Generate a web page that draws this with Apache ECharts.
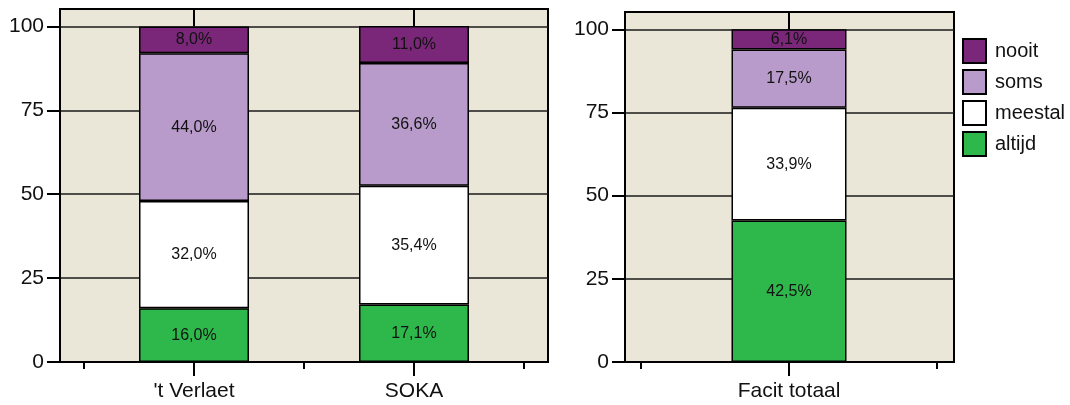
<!DOCTYPE html>
<html>
<head>
<meta charset="utf-8">
<script src="https://cdn.jsdelivr.net/npm/echarts@6/dist/echarts.min.js"></script>
<style>
html,body{margin:0;padding:0;background:#fff;}
#chart{width:1070px;height:405px;}
</style>
</head>
<body>
<div id="chart"></div>
<script>
// ---- data ----
const categoriesLeft = ["'t Verlaet", "SOKA"];
const categoriesRight = ["Facit totaal"];
const legendOrder = ["nooit", "soms", "meestal", "altijd"];
const altijdLeft = [16.0, 17.1];
const meestalLeft = [32.0, 35.4];
const somsLeft = [44.0, 36.6];
const nooitLeft = [8.0, 11.0];
const altijdRight = [42.5];
const meestalRight = [33.9];
const somsRight = [17.5];
const nooitRight = [6.1];
const yTickValues = [0, 25, 50, 75, 100];

// ---- styles ----
const FONT = "'Liberation Sans', Arial, Helvetica, sans-serif";
const colors = { nooit: '#7B2779', soms: '#B89BCA', meestal: '#FFFFFF', altijd: '#2EB84B' };
const BG = '#EBE7D8';
const YMAX = 105.2;

function fmt(v) { return v.toFixed(1).replace('.', ',') + '%'; }

const chart = echarts.init(document.getElementById('chart'), null, { renderer: 'canvas' });

function yAxisBg(gridIndex) {
  return {
    type: 'value', gridIndex, min: 0, max: YMAX, interval: 25,
    axisLine: { show: true, lineStyle: { color: '#000', width: 2 } },
    axisTick: { show: true, length: 13, customValues: yTickValues, lineStyle: { color: '#000', width: 2 } },
    axisLabel: { customValues: yTickValues, margin: 16, fontSize: 21, color: '#111', fontFamily: FONT },
    splitLine: { show: true, lineStyle: { color: '#1a1a1a', width: 1.6 } }
  };
}
function yAxisBars(gridIndex) {
  return {
    type: 'value', gridIndex, min: 0, max: YMAX, interval: 25, show: false,
    splitLine: { show: false }
  };
}

// background axes: value type, used only to draw ticks and labels at the category positions
function xAxesBg(gridIndex, min, max, cats) {
  const major = cats.map((c, i) => i + 1);
  const minor = [0.5];
  cats.forEach((c, i) => minor.push(i + 1.5));
  return [{
    type: 'value', gridIndex, min, max, position: 'bottom',
    axisLine: { show: true, lineStyle: { color: '#000', width: 2 } },
    axisTick: { show: true, length: 14, customValues: major, lineStyle: { color: '#000', width: 2 } },
    axisLabel: { customValues: major, formatter: v => cats[Math.round(v) - 1] || '', margin: 19,
      fontSize: 21, color: '#111', fontFamily: FONT },
    splitLine: { show: false }
  }, {
    type: 'value', gridIndex, min, max, position: 'bottom',
    axisLine: { show: false },
    axisTick: { show: true, length: 7, customValues: minor, lineStyle: { color: '#000', width: 2 } },
    axisLabel: { show: false },
    splitLine: { show: false }
  }];
}
function xAxisBars(gridIndex, cats) {
  return { type: 'category', gridIndex, data: cats, show: false, boundaryGap: true };
}

function barSeries(name, vals, xIdx, yIdx, stack, width, topMark) {
  const s = {
    name, type: 'bar', stack, xAxisIndex: xIdx, yAxisIndex: yIdx,
    barWidth: width,
    data: vals,
    itemStyle: { color: colors[name], borderColor: '#000', borderWidth: 1.5 },
    label: { show: true, position: 'inside', formatter: p => fmt(p.value), fontSize: 16,
      color: '#111', fontFamily: FONT },
    emphasis: { disabled: true }
  };
  if (topMark) {
    s.markLine = {
      silent: true, symbol: 'none', label: { show: false },
      lineStyle: { color: '#000', width: 2, type: 'solid' },
      data: vals.map((v, i) => [{ coord: [i, 100] }, { coord: [i, YMAX] }])
    };
  }
  return s;
}

const option = {
  animation: false,
  backgroundColor: '#fff',
  textStyle: { fontFamily: FONT },
  grid: [
    { left: 60, top: 9, width: 488, height: 353, show: true, backgroundColor: BG, borderColor: '#000', borderWidth: 2 },
    { left: 84, top: 9, width: 440, height: 353, show: false },
    { left: 625, top: 12, width: 329, height: 350, show: true, backgroundColor: BG, borderColor: '#000', borderWidth: 2 },
    { left: 641, top: 12, width: 296, height: 350, show: false }
  ],
  legend: {
    data: legendOrder, orient: 'vertical', left: 962, top: 38, padding: 0,
    itemWidth: 23, itemHeight: 24, itemGap: 5, icon: 'rect',
    itemStyle: { borderColor: '#000', borderWidth: 2 },
    textStyle: { fontSize: 20, color: '#111', fontFamily: FONT, padding: [0, 0, 0, 4] },
    selectedMode: false
  },
  xAxis: [
    ...xAxesBg(0, 0.391, 2.609, categoriesLeft),   // 0,1
    xAxisBars(1, categoriesLeft),                  // 2
    ...xAxesBg(2, 0.446, 1.557, categoriesRight),  // 3,4
    xAxisBars(3, categoriesRight)                  // 5
  ],
  yAxis: [yAxisBg(0), yAxisBars(1), yAxisBg(2), yAxisBars(3)],
  series: [
    barSeries('altijd', altijdLeft, 2, 1, 'L', 110, false),
    barSeries('meestal', meestalLeft, 2, 1, 'L', 110, false),
    barSeries('soms', somsLeft, 2, 1, 'L', 110, false),
    barSeries('nooit', nooitLeft, 2, 1, 'L', 110, true),
    barSeries('altijd', altijdRight, 5, 3, 'R', 115, false),
    barSeries('meestal', meestalRight, 5, 3, 'R', 115, false),
    barSeries('soms', somsRight, 5, 3, 'R', 115, false),
    barSeries('nooit', nooitRight, 5, 3, 'R', 115, true)
  ]
};
chart.setOption(option);
</script>
</body>
</html>
